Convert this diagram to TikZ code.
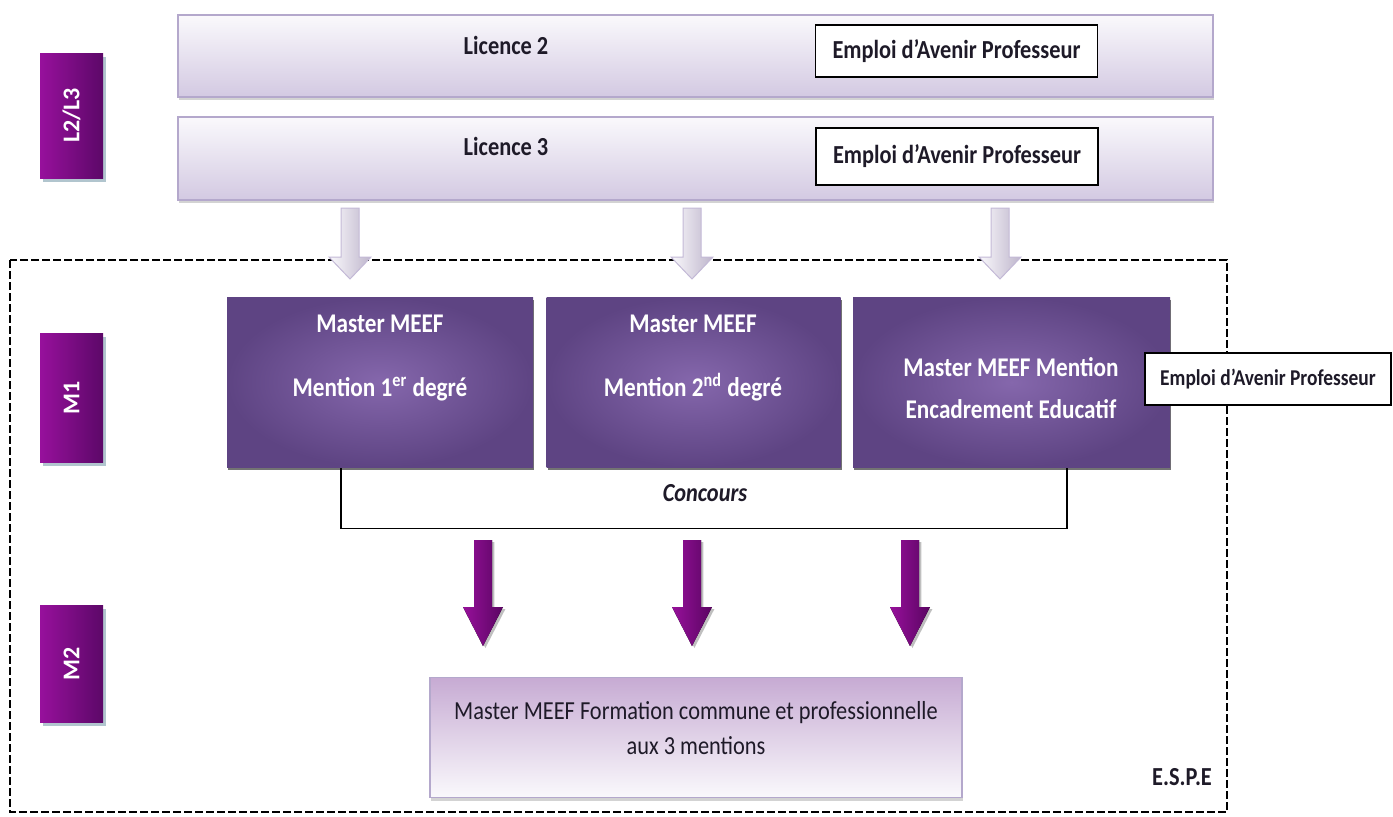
\documentclass[tikz,border=0pt]{standalone}
\usepackage{fontspec}
\setmainfont{Carlito}[FakeStretch=0.86]
\newfontfamily\lblfont{Carlito}
\usetikzlibrary{shadows}

\definecolor{barTop}{HTML}{FAF9FC}
\definecolor{barBot}{HTML}{D3C9E2}
\definecolor{barEdge}{HTML}{B4A8CC}
\definecolor{mInner}{HTML}{8567AC}
\definecolor{mOuter}{HTML}{5E4483}
\definecolor{lblLeft}{HTML}{97109C}
\definecolor{lblRight}{HTML}{5C0868}
\definecolor{arrLeft}{HTML}{96109A}
\definecolor{arrRight}{HTML}{5A0562}
\definecolor{txtDark}{HTML}{1E1A28}

\begin{document}
\begin{tikzpicture}[x=0.5pt,y=-0.5pt,
  bar/.style={draw=barEdge,line width=0.6pt,top color=barTop,bottom color=barBot,
    drop shadow={shadow xshift=0.6pt,shadow yshift=-1.6pt,opacity=0.35}},
  eap/.style={draw=black,fill=white,line width=0.8pt,text=txtDark,
    font=\fontsize{13}{15}\selectfont\bfseries},
  lbl/.style={left color=lblLeft,right color=lblRight,text=white,
    minimum width=31.5pt,font=\lblfont\fontsize{12}{14}\selectfont\bfseries,
    drop shadow={shadow xshift=1.4pt,shadow yshift=-2pt,fill=gray!70!cyan,opacity=0.6}},
  mbox/.style={inner color=mInner,outer color=mOuter,minimum height=85pt,
    drop shadow={shadow xshift=0.5pt,shadow yshift=-1.6pt,fill=black,opacity=0.55}},
  mtxt/.style={text=white,align=center,font=\fontsize{13.5}{16}\selectfont\bfseries},
  tx/.style={text=txtDark,align=center,font=\fontsize{13}{16}\selectfont\bfseries},
  larrow/.style={draw=barEdge!80,line width=0.5pt,left color=barTop,right color=barBot!90!black},
  darrow/.style={left color=arrLeft,right color=arrRight,
    drop shadow={shadow xshift=1.2pt,shadow yshift=-1pt,opacity=0.5}}]
\useasboundingbox (0,0) rectangle (1393,816);

% E.S.P.E frame
\draw[dash pattern=on 4pt off 1.5pt,line width=0.7pt] (10,260) rectangle (1227,812);
\node[tx,anchor=center] (espe) at (1182,777) {E.S.P.E};

% year labels
\node[lbl,minimum height=62.5pt] (yL) at (71.5,115.5) {\rotatebox{90}{L2/L3}};
\node[lbl,minimum height=64.5pt] (yM1) at (71.5,397.5) {\rotatebox{90}{M1}};
\node[lbl,minimum height=58.5pt] (yM2) at (71.5,663.5) {\rotatebox{90}{M2}};

% licence
\node[bar,minimum width=517.5pt,minimum height=41pt] (lic2) at (695.5,56) {};
\node[bar,minimum width=517.5pt,minimum height=41.5pt] (lic3) at (695.5,158.5) {};
\node[tx] (lic2txt) at (506,45) {Licence 2};
\node[tx] (lic3txt) at (506,146) {Licence 3};
\node[eap,minimum width=141pt,minimum height=26pt] (eap2) at (956.5,51) {Emploi d’Avenir Professeur};
\node[eap,minimum width=141pt,minimum height=28.5pt] (eap3) at (957,156.5) {Emploi d’Avenir Professeur};

% light arrows
\foreach \x in {350,692,1000}
  \draw[larrow] (\x-9,208) -- (\x+9,208) -- (\x+9,257) -- (\x+21,257) -- (\x,279)
    -- (\x-21,257) -- (\x-9,257) -- cycle;

% M1
\node[fill=white,minimum width=362.5pt,minimum height=30.5pt] (conc) at (704,497.5) {};
\draw[line width=0.8pt] (conc.north west) |- (conc.south east) -- (conc.north east);
\node[tx,font=\fontsize{13}{16}\selectfont\bfseries\itshape] (conctxt) at (705,493) {Concours};
\node[mbox,minimum width=153pt] (mA) at (380,382) {};
\node[mbox,minimum width=147pt] (mB) at (693.5,382) {};
\node[mbox,minimum width=158.5pt] (mC) at (1011.5,382) {};
\node[mtxt] (mAtxt) at (380,358) {Master MEEF\\[16pt]Mention 1\textsuperscript{er} degré};
\node[mtxt] (mBtxt) at (693,358) {Master MEEF\\[16pt]Mention 2\textsuperscript{nd} degré};
\node[mtxt] (mCtxt) at (1011,388) {Master MEEF Mention\\[5pt]Encadrement Educatif};
\node[eap,font=\fontsize{11.3}{14}\selectfont\bfseries,minimum width=123pt,minimum height=26pt] (eapM) at (1268,379) {Emploi d’Avenir Professeur};

% M2
\foreach \x in {483,692,910}
  \fill[darrow] (\x-9,540) -- (\x+9,540) -- (\x+9,607) -- (\x+20,607) -- (\x,646)
    -- (\x-20,607) -- (\x-9,607) -- cycle;
\node[draw=barEdge,line width=0.6pt,top color=barBot!85!violet,bottom color=barTop,
  minimum width=266pt,minimum height=60pt,
  drop shadow={shadow xshift=0.6pt,shadow yshift=-1.6pt,opacity=0.35}] (form) at (696,737.5) {};
\node[tx,font=\fontsize{13}{16}\selectfont] (formtxt) at (696,728) {Master MEEF Formation commune et professionnelle\\[1.5pt]aux 3 mentions};
\end{tikzpicture}
\end{document}
